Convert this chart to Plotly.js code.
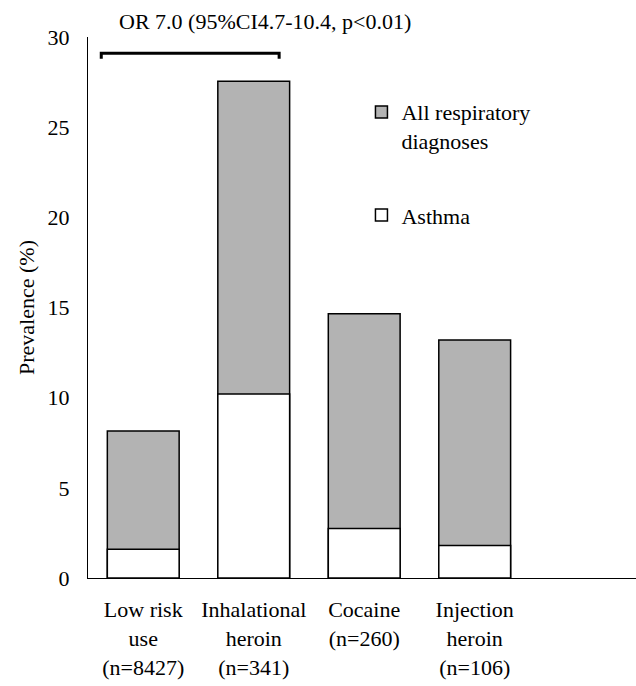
<!DOCTYPE html>
<html>
<head>
<meta charset="utf-8">
<script src="https://cdn.plot.ly/plotly-3.0.1.min.js"></script>
<style>html,body{margin:0;padding:0;background:#fff;}</style>
</head>
<body>
<div id="chart"></div>
<script>
var categories = ["Low risk<br>use<br>(n=8427)", "Inhalational<br>heroin<br>(n=341)", "Cocaine<br>(n=260)", "Injection<br>heroin<br>(n=106)"];
var allRespiratory = [8.15, 27.55, 14.65, 13.2];
var asthma = [1.6, 10.2, 2.75, 1.8];
var seriesNames = ["All respiratory<br>diagnoses", "Asthma"];
var orLabel = "OR 7.0 (95%CI4.7-10.4, p<0.01)";

(function () {
  var FAM = "Times New Roman";
  function F() { return {family: FAM, size: 22, color: "#000"}; }

  var traces = [
    {type: "bar", x: categories, y: allRespiratory, name: seriesNames[0], legendgroup: "a",
     width: 0.65, marker: {color: "#b3b3b3", line: {color: "#000", width: 1.5}}},
    {type: "bar", x: categories, y: asthma, name: seriesNames[1], legendgroup: "b",
     width: 0.65, marker: {color: "#ffffff", line: {color: "#000", width: 1.5}}}
  ];

  var layout = {
    width: 636, height: 686,
    margin: {l: 88, r: 0, t: 37, b: 108},
    font: F(),
    barmode: "overlay",
    showlegend: true,
    legend: {x: 0.499, y: 0.90, xanchor: "left", yanchor: "top", valign: "top",
             font: F(), tracegroupgap: 43, bgcolor: "rgba(0,0,0,0)"},
    xaxis: {range: [-0.5, 4.46], showline: true, linecolor: "#000", linewidth: 1,
            ticks: "outside", ticklen: 12, tickcolor: "rgba(0,0,0,0)", showgrid: false,
            zeroline: false, tickfont: F()},
    yaxis: {range: [0, 30], dtick: 5, showline: true, linecolor: "#000", linewidth: 1,
            ticks: "outside", ticklen: 13, tickcolor: "rgba(0,0,0,0)", showgrid: false,
            zeroline: false, tickfont: F(),
            title: {text: "Prevalence (%)", font: F(), standoff: 6}},
    shapes: [
      {type: "path", xref: "x", yref: "y",
       path: "M -0.38,28.8 L -0.38,29.1 L 1.23,29.1 L 1.23,28.8",
       line: {color: "#000", width: 3}}
    ],
    annotations: [
      {text: orLabel, xref: "x", yref: "paper", x: 1.1, y: 1.029, yanchor: "middle",
       showarrow: false, font: F()}
    ]
  };

  Plotly.newPlot("chart", traces, layout, {displayModeBar: false}).then(function (gd) {
    var nodes = gd.querySelectorAll("text");
    for (var i = 0; i < nodes.length; i++) {
      nodes[i].style.setProperty("font-family", "'Liberation Serif', 'Times New Roman', serif", "important");
    }
  });
})();
</script>
</body>
</html>
